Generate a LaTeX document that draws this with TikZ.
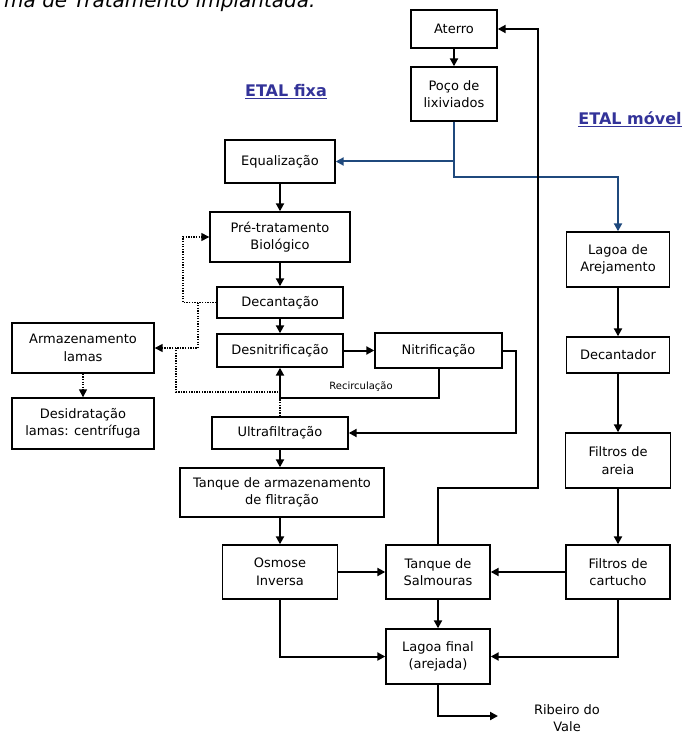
\documentclass[tikz,border=0pt]{standalone}
\usepackage{fontspec}
\setmainfont{DejaVu Sans}
\usetikzlibrary{arrows.meta}
\definecolor{flowblue}{RGB}{31,73,125}
\definecolor{labelblue}{RGB}{51,51,153}
\begin{document}
\begin{tikzpicture}[x=1pt,y=-1pt,
  box/.style={draw, line width=1.4pt, inner sep=0pt, align=center,
    font=\fontsize{13}{17.5}\selectfont},
  flow/.style={line width=2pt, -{Triangle[length=8pt,width=8pt]}},
  feed/.style={flow, draw=flowblue, color=flowblue},
  sludge/.style={line width=1.5pt, dash pattern=on 1.3pt off 1.3pt},
  sludgearrow/.style={sludge, -{Triangle[length=8pt,width=8pt]}},
  etal/.style={text=labelblue, inner sep=0pt, font=\fontsize{16}{19}\selectfont\bfseries},
  note/.style={inner sep=0pt, font=\fontsize{10}{12}\selectfont},
  plain/.style={inner sep=0pt, align=center, font=\fontsize{13}{17.5}\selectfont}
]
\useasboundingbox (0,0) rectangle (687,735);

% heading line of the page
\node[anchor=base west, inner sep=0pt, font=\fontsize{20}{24}\selectfont\itshape]
  (caption) at (4,8) {ma de Tratamento implantada.};

% section labels
\node[etal] (fixa) at (286,92) {\underline{ETAL fixa}};
\node[etal] (movel) at (630,119) {\underline{ETAL móvel}};

% source
\node[box, minimum width=86pt, minimum height=38pt] (aterro) at (454,29) {Aterro};
\node[box, minimum width=86pt, minimum height=54pt] (poco) at (454,94) {Poço de\\lixiviados};

% fixed plant
\node[box, minimum width=110pt, minimum height=43pt] (equal) at (280,161.5) {Equalização};
\node[box, minimum width=140pt, minimum height=50pt] (pre) at (280,237) {Pré-tratamento\\Biológico};
\node[box, minimum width=126pt, minimum height=31pt] (decant) at (280,302.5) {Decantação};
\node[box, minimum width=126pt, minimum height=33pt] (desnit) at (280,350.5) {Desnitrificação};
\node[box, minimum width=127pt, minimum height=35pt] (nitrif) at (438.5,350.5) {Nitrificação};
\node[box, minimum width=136pt, minimum height=32pt] (ultra) at (280,433) {Ultrafiltração};
\node[box, minimum width=204pt, minimum height=49pt] (tanque) at (282,492.5) {Tanque de armazenamento\\de flitração};
\node[box, minimum width=115pt, minimum height=54pt] (osmose) at (280,572) {Osmose\\Inversa};

% sludge line
\node[box, minimum width=142pt, minimum height=50pt] (armaz) at (83,348) {Armazenamento\\lamas};
\node[box, minimum width=142pt, minimum height=51pt] (desid) at (83,423.5) {Desidratação\\lamas: centrífuga};

% shared units
\node[box, minimum width=104pt, minimum height=54pt] (salm) at (438,572) {Tanque de\\Salmouras};
\node[box, minimum width=104pt, minimum height=55pt] (lagoaf) at (438,656.5) {Lagoa final\\(arejada)};

% mobile plant
\node[box, minimum width=103pt, minimum height=55pt] (lagoaa) at (618,259.5) {Lagoa de\\Arejamento};
\node[box, minimum width=103pt, minimum height=36pt] (decantador) at (618,355) {Decantador};
\node[box, minimum width=105pt, minimum height=55pt] (areia) at (618,460.5) {Filtros de\\areia};
\node[box, minimum width=104pt, minimum height=54pt] (cart) at (618,572) {Filtros de\\cartucho};

% discharge
\node[plain, anchor=north] (ribeiro) at (567,704) {Ribeiro do\\Vale};

% routing points
\coordinate (split) at (454,177);
\coordinate (recirc) at (280,398);
\coordinate (nitout) at (515.5,350.5);
\coordinate (ret) at (538,488);
\coordinate (rio) at (498,716);
\coordinate (pretap) at (183,302.5);
\coordinate (lamtap) at (198,302.5);
\coordinate (ufup) at (280,392);
\coordinate (ufleft) at (176,348);

% leachate feed
\draw[flow] (aterro) -- (poco);
\draw[feed] (poco.south) |- (equal.east);
\draw[feed] (poco.south) -- (split) -| (lagoaa.north);

% fixed plant flow
\draw[flow] (equal) -- (pre);
\draw[flow] (pre) -- (decant);
\draw[flow] (decant) -- (desnit);
\draw[flow] (desnit) -- (nitrif);
\draw[flow] (nitrif.south) |- (recirc) -- (desnit.south);
\node[note] (recirclabel) at (361,387) {Recirculação};
\draw[flow] (nitrif.east) -- (nitout) |- (ultra.east);
\draw[flow] (ultra.south) -- (ultra.south |- tanque.north);
\draw[flow] (osmose.north |- tanque.south) -- (osmose.north);
\draw[flow] (osmose) -- (salm);
\draw[flow] (osmose.south) |- (lagoaf.west);

% mobile plant flow
\draw[flow] (lagoaa) -- (decantador);
\draw[flow] (decantador) -- (areia);
\draw[flow] (areia) -- (cart);
\draw[flow] (cart) -- (salm);
\draw[flow] (cart.south) |- (lagoaf.east);

% brine and final lagoon
\draw[flow] (salm) -- (lagoaf);
\draw[flow] (salm.north) |- (ret) |- (aterro.east);
\draw[flow] (lagoaf.south) |- (rio);

% sludge routes
\draw[sludgearrow] (decant.west) -- (pretap) |- (pre.west);
\draw[sludgearrow] (lamtap) |- (armaz.east);
\draw[sludge] (ultra.north) -- (ufup) -| (ufleft);
\draw[sludgearrow] (armaz) -- (desid);
\end{tikzpicture}
\end{document}
